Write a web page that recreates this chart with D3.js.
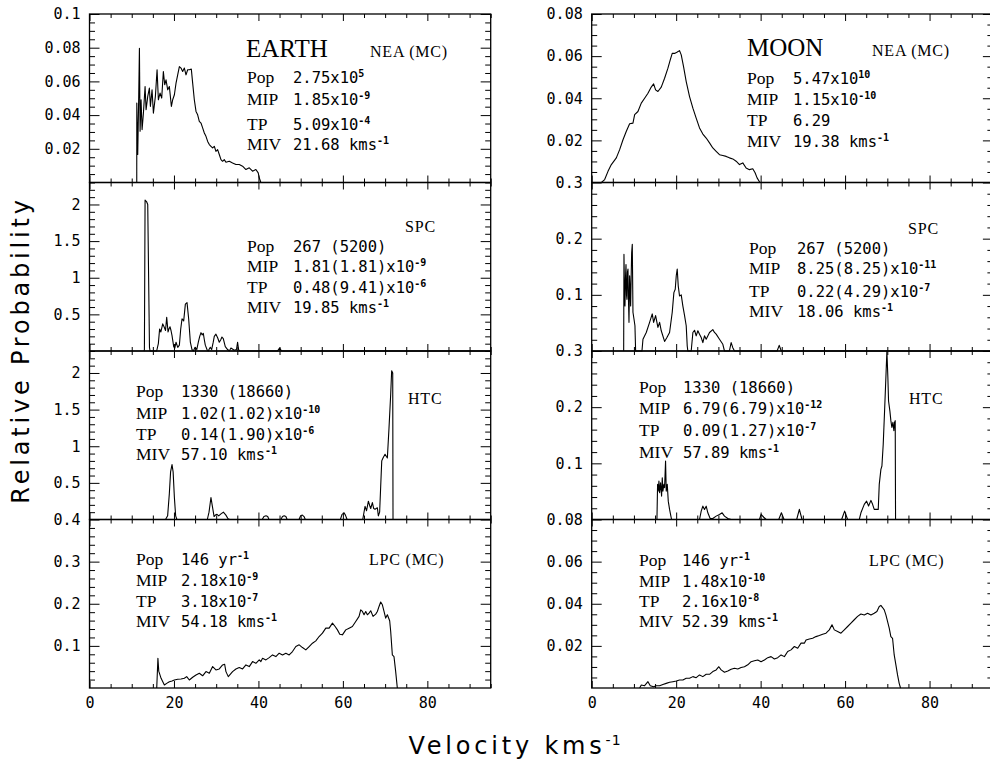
<!DOCTYPE html>
<html>
<head>
<meta charset="utf-8">
<script src="https://cdn.jsdelivr.net/npm/d3@7"></script>
<style>
  body { margin: 0; background: #fff; }
  svg { display: block; }
</style>
</head>
<body>
<script>
// [velocity km/s, relative probability]
const earthNEA = [[11.19,0],[11.2,0.0472],[11.42,0.0166],[11.66,0.0521],[11.82,0.0797],[11.98,0.0304],[12.21,0.0491],[12.45,0.0314],[12.77,0.0412],[13.16,0.0570],[13.4,0.0432],[13.79,0.0511],[14.18,0.0560],[14.42,0.0452],[14.81,0.0550],[15.13,0.0412],[15.6,0.0511],[16.0,0.0669],[16.31,0.0491],[16.7,0.0531],[17.1,0.0501],[17.49,0.0659],[17.81,0.0580],[18.12,0.0609],[18.52,0.0550],[18.91,0.0570],[19.39,0.0452],[19.7,0.0491],[20.1,0.0521],[20.49,0.0590],[20.88,0.0639],[21.28,0.0688],[21.67,0.0679],[22.06,0.0659],[22.46,0.0679],[22.85,0.0639],[23.25,0.0669],[23.64,0.0669],[24.11,0.0673],[24.43,0.0590],[24.82,0.0491],[25.22,0.0422],[25.61,0.0402],[26.0,0.0363],[26.4,0.0353],[26.79,0.0324],[27.19,0.0294],[27.58,0.0274],[27.98,0.0244],[28.37,0.0225],[28.76,0.0215],[29.16,0.0205],[29.55,0.0215],[29.94,0.0185],[30.34,0.0195],[30.73,0.0166],[31.13,0.0136],[31.52,0.0126],[31.91,0.0136],[32.31,0.0120],[33.1,0.0126],[33.88,0.0116],[34.67,0.0107],[35.46,0.0107],[36.25,0.0097],[37.04,0.0077],[37.83,0.0087],[38.61,0.0067],[39.4,0.0077],[39.95,0.0057],[40.19,0.0028],[40.58,0]];

const earthSPC = [[12.9,0],[13.0,0.02],[13.16,2.06],[13.5,2.04],[13.79,2.0],[14.0,1.0],[14.2,0.05],[14.34,0],[15.9,0],[16.3,0.1],[16.6,0.3],[16.9,0.26],[17.34,0.37],[17.73,0.32],[18.0,0.28],[18.28,0.46],[18.6,0.26],[18.8,0.3],[19.07,0.33],[19.3,0.28],[19.54,0.21],[19.94,0.06],[20.2,0.04],[20.49,0.12],[20.9,0.05],[21.28,0.08],[21.6,0.3],[21.91,0.44],[22.3,0.41],[22.7,0.64],[23.09,0.66],[23.48,0.44],[23.88,0.12],[24.27,0.02],[24.6,0],[25.0,0.05],[25.4,0.02],[25.77,0.12],[26.1,0.2],[26.4,0.25],[26.7,0.22],[26.95,0.24],[27.2,0.15],[27.42,0.08],[27.82,0.02],[28.1,0],[28.6,0.05],[28.92,0.02],[29.3,0.12],[29.55,0.2],[29.94,0.23],[30.34,0.18],[30.73,0.12],[31.05,0.15],[31.36,0.19],[31.68,0.17],[32.15,0.06],[32.7,0.02],[33.1,0],[33.49,0.04],[34.28,0.01],[34.8,0.02],[35.07,0.12],[35.3,0.02],[35.6,0],[44.5,0],[45.0,0.04],[45.5,0],[95,0]];

const earthHTC = [[0,0],[18.0,0],[18.5,0.05],[18.9,0.35],[19.2,0.65],[19.54,0.75],[19.8,0.65],[20.1,0.3],[20.4,0.05],[20.7,0],[27.9,0],[28.3,0.1],[28.76,0.30],[29.1,0.18],[29.5,0.04],[29.8,0.06],[30.2,0.07],[30.6,0.05],[31.2,0.08],[31.7,0.1],[32.3,0.06],[32.8,0.01],[33.2,0],[40.9,0],[41.3,0.04],[41.8,0.05],[42.2,0.04],[42.5,0],[45.3,0],[45.7,0.04],[46.1,0.05],[46.5,0.04],[46.8,0],[49.6,0],[50.0,0.05],[50.4,0.06],[50.8,0.04],[51.1,0],[59.4,0],[59.8,0.07],[60.3,0.09],[60.6,0.06],[61.0,0],[64.7,0],[65.25,0.18],[65.6,0.12],[66.04,0.25],[66.4,0.18],[66.59,0.15],[66.98,0.23],[67.3,0.15],[67.61,0.14],[68.16,0.16],[68.4,0.05],[68.7,0.1],[68.95,0.45],[69.2,0.8],[69.5,0.84],[69.98,0.89],[70.3,0.86],[70.53,0.84],[70.92,1.25],[71.32,1.71],[71.55,2.03],[71.8,2.0],[71.87,0]];

const earthLPC = [[15.92,0],[16.1,0.045],[16.2,0.0707],[16.4,0.04],[16.95,0.023],[17.73,0.0071],[18.28,0.011],[18.91,0.015],[19.54,0.0167],[20.1,0.019],[20.88,0.0206],[21.67,0.0214],[22.46,0.023],[23.01,0.027],[23.64,0.019],[24.43,0.0254],[25.22,0.031],[26.0,0.035],[26.79,0.029],[27.58,0.0389],[28.37,0.035],[29.16,0.0508],[29.94,0.0429],[30.73,0.0452],[31.52,0.0548],[32.0,0.0564],[32.31,0.0389],[32.86,0.027],[33.88,0.0389],[34.67,0.0452],[35.46,0.0484],[36.25,0.0452],[37.04,0.0548],[37.83,0.0508],[38.61,0.0627],[39.4,0.0587],[40.19,0.0667],[40.58,0.0627],[40.98,0.0706],[41.77,0.0667],[42.55,0.0722],[43.34,0.0786],[44.13,0.0746],[44.92,0.0826],[45.71,0.0786],[46.49,0.0826],[47.28,0.0786],[48.07,0.0865],[48.86,0.0984],[49.65,0.1024],[50.43,0.096],[51.22,0.0905],[52.01,0.0984],[52.8,0.1064],[53.59,0.1119],[54.37,0.1222],[55.16,0.1302],[55.95,0.1421],[56.74,0.1421],[57.53,0.154],[58.16,0.146],[58.71,0.138],[59.26,0.1278],[59.89,0.1262],[60.68,0.138],[61.47,0.1421],[62.25,0.146],[63.04,0.158],[63.83,0.17],[64.22,0.1857],[64.62,0.1817],[65.01,0.1738],[65.41,0.1817],[65.8,0.1738],[66.19,0.1778],[66.59,0.1833],[67.14,0.17],[67.77,0.1754],[68.16,0.1817],[68.56,0.1936],[68.95,0.204],[69.35,0.1976],[69.74,0.1817],[70.13,0.1659],[70.53,0.1738],[71.08,0.1595],[71.32,0.1341],[71.71,0.0786],[72.1,0.0746],[72.5,0.0389],[72.89,0]];

const moonNEA = [[2.29,0],[3.07,0.0014],[3.86,0.0053],[4.65,0.0085],[5.83,0.0117],[6.62,0.0156],[7.41,0.0203],[8.2,0.0243],[8.98,0.0279],[9.77,0.0282],[10.17,0.0322],[10.95,0.0337],[11.74,0.0377],[12.53,0.04],[13.32,0.0424],[14.1,0.0453],[14.66,0.0468],[15.13,0.044],[15.68,0.0432],[16.47,0.0453],[17.26,0.0495],[18.05,0.0543],[18.6,0.0582],[19.07,0.0613],[19.62,0.0613],[20.17,0.0618],[20.8,0.0626],[21.2,0.0606],[21.75,0.055],[22.38,0.0479],[23.17,0.0408],[23.96,0.0353],[24.74,0.0306],[25.53,0.0259],[26.32,0.023],[27.11,0.0211],[27.9,0.0188],[28.68,0.0164],[29.47,0.0148],[30.26,0.0132],[31.05,0.0128],[31.84,0.0124],[32.62,0.0117],[33.41,0.0112],[34.2,0.0101],[34.99,0.0085],[35.78,0.0093],[36.56,0.0069],[37.35,0.0061],[38.14,0.0065],[38.69,0.0046],[39.16,0.0022],[39.83,0]];

const moonSPC = [[7.57,0],[7.64,0.172],[7.76,0.11],[7.88,0.080],[8.0,0.13],[8.12,0.154],[8.24,0.1],[8.35,0.092],[8.47,0.14],[8.59,0.146],[8.71,0.09],[8.83,0.051],[8.98,0.134],[9.1,0.11],[9.22,0.08],[9.34,0.13],[9.46,0.175],[9.61,0.19],[9.77,0.069],[10.01,0.057],[10.24,0.045],[10.4,0],[11.9,0],[12.14,0.021],[12.92,0.033],[13.71,0.051],[14.34,0.066],[14.66,0.051],[15.13,0.063],[15.68,0.042],[16.08,0.051],[16.47,0.036],[17.26,0.017],[17.81,0.024],[18.44,0.033],[19.07,0.069],[19.46,0.104],[19.78,0.11],[20.02,0.134],[20.25,0.146],[20.49,0.116],[20.8,0.098],[21.2,0.1],[21.59,0.08],[21.99,0.063],[22.38,0.045],[22.62,0.009],[22.77,0],[23.56,0],[23.96,0.033],[24.35,0.037],[24.74,0.027],[25.14,0.036],[25.53,0.030],[25.93,0.024],[26.32,0.015],[26.71,0.027],[27.11,0.021],[27.9,0.033],[28.68,0.038],[29.08,0.033],[29.47,0.030],[30.26,0.021],[31.05,0.012],[31.44,0],[32.6,0],[33.02,0.015],[33.41,0.006],[33.81,0],[43.9,0],[44.4,0.01],[44.9,0],[95,0]];

const moonHTC = [[0,0],[15.45,0],[15.6,0.0625],[15.76,0.0506],[15.92,0.0685],[16.08,0.0476],[16.31,0.0655],[16.55,0.0417],[16.71,0.0744],[16.86,0.0506],[17.1,0.0625],[17.26,0.0565],[17.49,0.104],[17.65,0.0506],[17.89,0.0625],[18.13,0.0327],[18.44,0.0179],[18.75,0.006],[18.91,0],[25.53,0],[25.93,0.0149],[26.32,0.0238],[26.71,0.0179],[27.11,0.0238],[27.5,0.0119],[28.05,0.0018],[28.68,0.0018],[29.47,0.006],[30.26,0.0089],[30.89,0.0119],[31.44,0.006],[32.23,0.0018],[33.02,0],[39.72,0],[40.11,0.009],[40.74,0.004],[41.29,0],[44.29,0],[44.92,0.012],[45.55,0],[48.54,0],[49.17,0.018],[49.8,0],[59.18,0],[59.89,0.015],[60.6,0],[63.36,0],[63.75,0.012],[64.54,0.027],[65.09,0.0327],[65.56,0.024],[66.12,0.034],[66.51,0.027],[66.9,0.018],[67.53,0.018],[67.85,0.018],[68.09,0.0625],[68.48,0.0893],[68.72,0.0952],[69.03,0.134],[69.35,0.193],[69.66,0.253],[69.9,0.3],[70.13,0.253],[70.29,0.211],[70.61,0.193],[70.84,0.176],[71.08,0.164],[71.32,0.173],[71.55,0.158],[71.71,0.173],[71.87,0.176],[71.95,0]];

const moonLPC = [[11.35,0],[11.74,0.0014],[12.53,0.0011],[13.32,0.003],[13.87,0.0011],[14.66,0.0006],[15.29,0.0011],[16.08,0.0011],[16.86,0.0017],[17.65,0.0022],[18.44,0.0027],[19.23,0.003],[20.02,0.0033],[20.8,0.0038],[21.59,0.0038],[22.38,0.0046],[23.17,0.0046],[23.96,0.0054],[24.74,0.0049],[25.53,0.0062],[26.32,0.0054],[27.11,0.0065],[27.9,0.0065],[28.68,0.0078],[29.47,0.0086],[30.1,0.0101],[30.65,0.0086],[31.44,0.0075],[32.23,0.0081],[33.02,0.0089],[33.81,0.0094],[34.59,0.009],[35.38,0.0097],[36.17,0.0101],[36.96,0.011],[37.75,0.0125],[38.53,0.0129],[39.32,0.0133],[40.11,0.0125],[40.9,0.0133],[41.69,0.0144],[42.47,0.0149],[43.26,0.0138],[44.05,0.0144],[44.84,0.0157],[45.63,0.0149],[46.41,0.0173],[47.2,0.0181],[47.99,0.0197],[48.78,0.0189],[49.57,0.0213],[50.35,0.0213],[50.75,0.0228],[51.54,0.0233],[52.32,0.0236],[53.11,0.0244],[53.9,0.0249],[54.69,0.0255],[55.48,0.026],[56.26,0.0276],[56.9,0.03],[57.45,0.0276],[58.23,0.0268],[59.02,0.026],[59.81,0.0276],[60.6,0.0292],[61.39,0.0308],[62.17,0.0324],[62.96,0.034],[63.75,0.0351],[64.54,0.0347],[65.33,0.0355],[66.12,0.0347],[66.9,0.0355],[67.53,0.0363],[68.09,0.0387],[68.48,0.0392],[68.87,0.0382],[69.27,0.0371],[69.66,0.0347],[70.05,0.0316],[70.45,0.0284],[70.84,0.0244],[71.24,0.0236],[71.63,0.0157],[72.03,0.011],[72.42,0.0062],[72.81,0.0022],[73.13,0]];

// axis ranges and tick steps per row
const earthYMax = [0.1, 2.3, 2.3, 0.4];
const earthMajor = [0.02, 0.5, 0.5, 0.1];
const earthMinor = [0.005, 0.1, 0.1, 0.02];
const moonYMax = [0.08, 0.3, 0.3, 0.08];
const moonMajor = [0.02, 0.1, 0.1, 0.02];
const moonMinor = [0.005, 0.02, 0.02, 0.005];
const velocityMax = 95;
const velocityTicks = [0, 20, 40, 60, 80];

// panel annotations ("^" marks a superscript)
const bodyNames = ["EARTH", "MOON"];
const earthTitles = ["NEA (MC)", "SPC", "HTC", "LPC (MC)"];
const earthPop = ["2.75x10^5", "267 (5200)", "1330 (18660)", "146 yr^-1"];
const earthMIP = ["1.85x10^-9", "1.81(1.81)x10^-9", "1.02(1.02)x10^-10", "2.18x10^-9"];
const earthTP = ["5.09x10^-4", "0.48(9.41)x10^-6", "0.14(1.90)x10^-6", "3.18x10^-7"];
const earthMIV = ["21.68 kms^-1", "19.85 kms^-1", "57.10 kms^-1", "54.18 kms^-1"];
const moonTitles = ["NEA (MC)", "SPC", "HTC", "LPC (MC)"];
const moonPop = ["5.47x10^10", "267 (5200)", "1330 (18660)", "146 yr^-1"];
const moonMIP = ["1.15x10^-10", "8.25(8.25)x10^-11", "6.79(6.79)x10^-12", "1.48x10^-10"];
const moonTP = ["6.29", "0.22(4.29)x10^-7", "0.09(1.27)x10^-7", "2.16x10^-8"];
const moonMIV = ["19.38 kms^-1", "18.06 kms^-1", "57.89 kms^-1", "52.39 kms^-1"];
const rowLabels = ["Pop", "MIP", "TP", "MIV"];

// layout (pixels)
const W = 990, H = 763;
const colX = [[89.5, 490.7], [591.7, 992.9]];
const rowTop = 14, rowH = 168.5;
const noteLayout = [
  [ {lx: 247, vx: 293, ys: [83, 105, 130, 150], tx: 370, ty: 57, bx: 246, by: 57},
    {lx: 247, vx: 293, ys: [252, 272, 293, 313], tx: 405, ty: 232},
    {lx: 136, vx: 181, ys: [397, 419, 440, 460], tx: 408, ty: 404},
    {lx: 136, vx: 181, ys: [565, 586, 607, 627], tx: 369, ty: 565} ],
  [ {lx: 747, vx: 793, ys: [84, 105, 126, 147], tx: 872, ty: 56, bx: 747, by: 56},
    {lx: 749, vx: 797, ys: [254, 274, 297, 317], tx: 908, ty: 234},
    {lx: 639, vx: 683, ys: [393, 414, 436, 458], tx: 909, ty: 404},
    {lx: 639, vx: 682, ys: [566, 587, 607, 627], tx: 869, ty: 566} ]
];

const serif = "'Liberation Serif', 'Times New Roman', serif";
const mono = "'DejaVu Sans Mono', 'Liberation Mono', monospace";
const sans = "'DejaVu Sans', 'Liberation Sans', sans-serif";

const svg = d3.select("body").append("svg")
  .attr("width", W).attr("height", H)
  .attr("viewBox", [0, 0, W, H])
  .style("background", "#fff");

function stepValues(max, step) {
  const n = Math.floor(max / step + 1e-6);
  return d3.range(0, n + 1).map(i => +(i * step).toFixed(6));
}

function writeValue(sel, str) {
  const [base, sup] = str.split("^");
  sel.append("tspan").text(base);
  if (sup) sel.append("tspan").attr("dy", -6).attr("font-size", 10).attr("font-weight", "bold").text(sup);
}

function styleAxis(g) {
  g.select(".domain").remove();
  g.selectAll(".tick line").attr("stroke", "#000").attr("stroke-width", 1);
  g.selectAll(".tick text").attr("fill", "#000");
}

const earthSeries = [earthNEA, earthSPC, earthHTC, earthLPC];
const moonSeries = [moonNEA, moonSPC, moonHTC, moonLPC];

[0, 1].forEach(col => {
  const series = col === 0 ? earthSeries : moonSeries;
  const yMaxes = col === 0 ? earthYMax : moonYMax;
  const majors = col === 0 ? earthMajor : moonMajor;
  const minors = col === 0 ? earthMinor : moonMinor;
  const titles = col === 0 ? earthTitles : moonTitles;
  const notes = col === 0 ? [earthPop, earthMIP, earthTP, earthMIV] : [moonPop, moonMIP, moonTP, moonMIV];
  const [x0, x1] = colX[col];
  const x = d3.scaleLinear().domain([0, velocityMax]).range([x0, x1]);

  for (let row = 0; row < 4; row++) {
    const top = rowTop + row * rowH, bottom = top + rowH;
    const y = d3.scaleLinear().domain([0, yMaxes[row]]).range([bottom, top]);
    const g = svg.append("g");

    const majorVals = stepValues(yMaxes[row], majors[row]).filter(v => v > 0);
    const isMajor = v => Math.abs(v / majors[row] - Math.round(v / majors[row])) < 1e-6;
    const minorVals = stepValues(yMaxes[row], minors[row]).filter(v => v > 0 && !isMajor(v));
    const xMinor = stepValues(velocityMax, 5).filter(v => v % 20 !== 0);

    // y axes, ticks pointing inward
    g.append("g").attr("transform", `translate(${x0},0)`)
      .call(d3.axisLeft(y).tickValues(majorVals).tickSize(-10).tickPadding(9).tickFormat(d => String(d)))
      .call(styleAxis)
      .call(a => a.selectAll("text").attr("font-family", mono).attr("font-size", 15));
    g.append("g").attr("transform", `translate(${x0},0)`)
      .call(d3.axisLeft(y).tickValues(minorVals).tickSize(-5.5).tickFormat(""))
      .call(styleAxis);
    g.append("g").attr("transform", `translate(${x1},0)`)
      .call(d3.axisRight(y).tickValues(majorVals).tickSize(-10).tickFormat(""))
      .call(styleAxis);
    g.append("g").attr("transform", `translate(${x1},0)`)
      .call(d3.axisRight(y).tickValues(minorVals).tickSize(-5.5).tickFormat(""))
      .call(styleAxis);

    // x axes top and bottom
    g.append("g").attr("transform", `translate(0,${bottom})`)
      .call(d3.axisBottom(x).tickValues(velocityTicks).tickSize(-7).tickPadding(9)
        .tickFormat(row === 3 ? (d => String(d)) : ""))
      .call(styleAxis)
      .call(a => a.selectAll("text").attr("font-family", mono).attr("font-size", 15));
    g.append("g").attr("transform", `translate(0,${bottom})`)
      .call(d3.axisBottom(x).tickValues(xMinor).tickSize(-4).tickFormat(""))
      .call(styleAxis);
    g.append("g").attr("transform", `translate(0,${top})`)
      .call(d3.axisTop(x).tickValues(velocityTicks).tickSize(-7).tickFormat(""))
      .call(styleAxis);
    g.append("g").attr("transform", `translate(0,${top})`)
      .call(d3.axisTop(x).tickValues(xMinor).tickSize(-4).tickFormat(""))
      .call(styleAxis);

    // frame
    g.append("rect")
      .attr("x", x0).attr("y", top)
      .attr("width", x1 - x0).attr("height", rowH)
      .attr("fill", "none").attr("stroke", "#000").attr("stroke-width", 1.3);

    // histogram curve
    const line = d3.line().x(d => x(d[0])).y(d => y(d[1]));
    g.append("path")
      .datum(series[row])
      .attr("d", line)
      .attr("fill", "none")
      .attr("stroke", "#000")
      .attr("stroke-width", 1.1)
      .attr("stroke-linejoin", "round");

    // annotations
    const L = noteLayout[col][row];
    if (row === 0) {
      g.append("text").attr("x", L.bx).attr("y", L.by)
        .attr("font-family", serif).attr("font-size", 25)
        .text(bodyNames[col]);
    }
    g.append("text").attr("x", L.tx).attr("y", L.ty)
      .attr("font-family", serif).attr("font-size", 16).attr("letter-spacing", 0.8)
      .text(titles[row]);
    rowLabels.forEach((lab, i) => {
      g.append("text").attr("x", L.lx).attr("y", L.ys[i])
        .attr("font-family", serif).attr("font-size", 17.5)
        .text(lab);
      const t = g.append("text").attr("x", L.vx).attr("y", L.ys[i])
        .attr("font-family", mono).attr("font-size", 15.5);
      writeValue(t, notes[i][row]);
    });
  }
});

// axis titles
svg.append("text")
  .attr("transform", "translate(29,350) rotate(-90)")
  .attr("text-anchor", "middle")
  .attr("font-family", sans).attr("font-size", 24).attr("letter-spacing", 3.8)
  .text("Relative Probability");

const xt = svg.append("text")
  .attr("x", 515).attr("y", 754)
  .attr("text-anchor", "middle")
  .attr("font-family", sans).attr("font-size", 24).attr("letter-spacing", 3.8);
xt.append("tspan").text("Velocity kms");
xt.append("tspan").attr("dy", -9).attr("font-size", 14).attr("letter-spacing", 1).text("-1");
</script>
</body>
</html>
